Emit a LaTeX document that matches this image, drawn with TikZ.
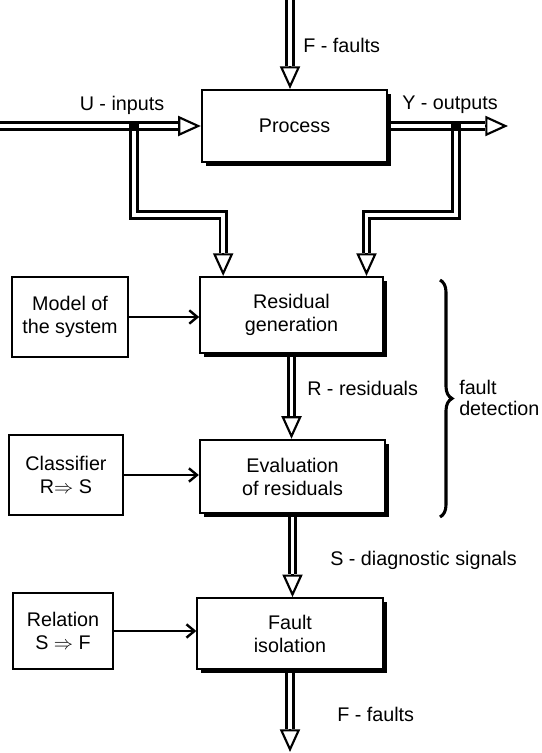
\documentclass[tikz,border=0pt]{standalone}
\usepackage{fontspec}
\setmainfont{Liberation Sans}
\usetikzlibrary{arrows.meta,calc,shadows,backgrounds,decorations.pathreplacing}

\newcommand{\diagfont}{\fontsize{14.8}{17.25}\selectfont}

\tikzset{
  block/.style={draw, line width=1.5pt, fill=white, align=center, font=\diagfont, inner sep=2pt},
  mainblock/.style={block, minimum width=139pt, minimum height=55pt,
    drop shadow={shadow xshift=3pt, shadow yshift=-3pt, opacity=1, fill=black}},
  sideblock/.style={block, minimum height=60pt},
  lbl/.style={font=\diagfont, inner sep=0pt},
  pipe/.style={draw=black, double=white, double distance=2.8pt, line width=2.1pt},
  pipehead/.style={line width=1.6pt, -{Triangle[length=17pt, width=15pt, fill=white, line width=1.6pt]}},
  feed/.style={line width=1.8pt, -{Straight Barb[length=6pt, width=10pt, line width=1.8pt]}},
  junction/.style={fill=black, minimum size=8pt, inner sep=0pt},
}

\begin{document}
\begin{tikzpicture}[x=0.75pt, y=-0.75pt]
  \useasboundingbox (0,0) rectangle (542,753);

  % main column
  \node[mainblock, minimum height=54pt] (proc) at (294.5,126) {Process};
  \node[mainblock, minimum width=137pt, minimum height=57pt] (resgen) at (291.5,315) {Residual\\generation};
  \node[mainblock] (eval) at (292.5,476.5) {Evaluation\\of residuals};
  \node[mainblock, minimum height=53pt] (isol) at (290,633.5) {Fault\\isolation};

  % side blocks
  \node[sideblock, minimum width=87pt] (model) at (70,317) {Model of\\the system};
  \node[sideblock, minimum width=85.5pt] (clsf) at (66,475) {Classifier\\R$\Rightarrow$ S};
  \node[sideblock, minimum width=75pt, minimum height=57pt] (rel) at (63,631) {Relation\\S $\Rightarrow$ F};

  \coordinate (ftop) at (290,0);
  \coordinate (uin) at (0,126);
  \coordinate (yout) at (508,126);
  \coordinate (jl) at (134,126);
  \coordinate (jr) at (456,126);
  \coordinate (fbot) at (291,752);
  \coordinate (ltip) at ([xshift=18pt]resgen.north west);
  \coordinate (rtip) at ([xshift=-13pt]resgen.north east);

  % signal pipes
  \begin{scope}[on background layer]
    \draw[pipe] (ftop) -- ($(ftop |- proc.north)+(0,-23)$) coordinate (fh);
    \draw[pipehead] (fh) -- (ftop |- proc.north);
    \draw[pipe] (uin) -- ($(proc.west)+(-23,0)$) coordinate (uh);
    \draw[pipehead] (uh) -- (proc.west);
    \draw[pipe] (proc.east) -- ($(yout)+(-23,0)$) coordinate (yh);
    \draw[pipehead] (yh) -- (yout);
    \draw[pipe] (jl) -- ++(0,89) -| ($(ltip)+(0,-23)$) coordinate (lh);
    \draw[pipehead] (lh) -- (ltip);
    \draw[pipe] (jr) -- ++(0,89) -| ($(rtip)+(0,-23)$) coordinate (rh);
    \draw[pipehead] (rh) -- (rtip);
    \draw[pipe] (resgen.south) -- ($(resgen.south |- eval.north)+(0,-23)$) coordinate (resh);
    \draw[pipehead] (resh) -- (resgen.south |- eval.north);
    \draw[pipe] (eval.south) -- ($(eval.south |- isol.north)+(0,-23)$) coordinate (sh);
    \draw[pipehead] (sh) -- (eval.south |- isol.north);
    \draw[pipe] (isol.south) -- ($(isol.south |- fbot)+(0,-23)$) coordinate (fbh);
    \draw[pipehead] (fbh) -- (isol.south |- fbot);
  \end{scope}
  \node[junction] (jlsq) at (jl) {};
  \node[junction] (jrsq) at (jr) {};

  % knowledge inputs
  \draw[feed] (model.east) -- (model.east -| resgen.west);
  \draw[feed] (clsf.east) -- (clsf.east -| eval.west);
  \draw[feed] (rel.east) -- (rel.east -| isol.west);

  % labels
  \node[lbl, anchor=west] (ftoplbl) at (303,45) {F - faults};
  \node[lbl] (ulbl) at (122,105) {U - inputs};
  \node[lbl] (ylbl) at (450,105) {Y - outputs};
  \node[lbl, anchor=west] (rlbl) at (307,388) {R - residuals};
  \node[lbl, anchor=west] (slbl) at (330,560) {S - diagnostic signals};
  \node[lbl, anchor=west] (fbotlbl) at (337,714) {F - faults};
  \node[lbl, anchor=west, align=left] (detlbl) at (459,398) {fault\\[-2pt]detection};

  \coordinate (bt) at (440,280);
  \coordinate (bb) at (440,517);
  \draw[line width=2.3pt, decorate, decoration={brace, amplitude=9pt}] (bt) -- (bb);
\end{tikzpicture}
\end{document}
